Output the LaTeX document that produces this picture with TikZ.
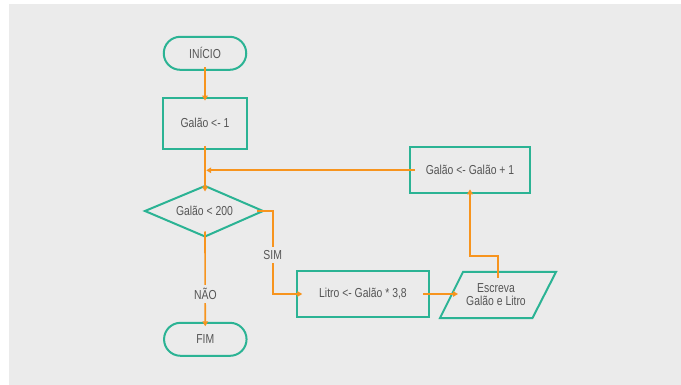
\documentclass[tikz,border=0pt]{standalone}
\usepackage{fontspec}
\setmainfont{Liberation Sans}[FakeStretch=0.8]
\usetikzlibrary{arrows.meta,calc}
\definecolor{bg}{HTML}{EBEBEB}
\definecolor{tealc}{HTML}{2BB394}
\definecolor{orng}{HTML}{F7941E}
\definecolor{txt}{HTML}{555555}
\begin{document}
\begin{tikzpicture}[x=1pt,y=-1pt,
  lab/.style={text=txt,font=\fontsize{13}{13}\selectfont},
  box/.style={lab,draw=tealc,line width=2pt,inner sep=0pt},
  term/.style={box,rounded corners=16.5pt,minimum width=82.5pt,minimum height=33pt},
  proc/.style={box,rectangle},
  conn/.style={draw=orng,line width=1.6pt,-{Triangle[length=5pt,width=5.5pt]}},
  lbl/.style={lab,fill=bg,inner xsep=1pt,inner ysep=3pt}]
\useasboundingbox (0,0) rectangle (681,385);
\fill[bg] (9,4) rectangle (681,385);

% nodes
\node[term] (ini) at (205,53.3) {INÍCIO};
\node[proc,minimum width=84.6pt,minimum height=51.3pt] (g1) at (205,123.3) {Galão <- 1};
\coordinate (dl) at (145,211);
\coordinate (dt) at (205,186);
\coordinate (dr) at (263,211);
\coordinate (db) at (205,236.5);
\draw[draw=tealc,line width=2pt] (dl) -- (dt) -- (dr) -- (db) -- cycle;
\node[lab] (dec) at (204.5,211) {Galão < 200};
\node[term] (fim) at (205.3,339.3) {FIM};
\node[proc,minimum width=131.5pt,minimum height=45pt] (lit) at (363,294) {Litro <- Galão * 3,8};
\coordinate (p1) at (440,318);
\coordinate (p2) at (463,272);
\coordinate (p3) at (556,272);
\coordinate (p4) at (532.5,318);
\draw[draw=tealc,line width=2pt] (p1) -- (p2) -- (p3) -- (p4) -- cycle;
\node[lab,align=center] (esc) at (496,294.5) {Escreva\\Galão e Litro};
\coordinate (pl) at (452,294);
\coordinate (pt) at (498,272);
\node[proc,minimum width=120pt,minimum height=46pt] (upd) at (470,170.3) {Galão <- Galão + 1};

% connectors
\draw[conn,shorten <=-3.3pt,shorten >=-4pt] (ini) -- (g1);
\draw[conn,shorten <=-4pt,shorten >=-5.5pt] (g1) -- (dt);
\coordinate (mrg) at (upd.west -| g1);
\draw[conn,shorten <=-6pt,shorten >=1.2pt] (upd.west) -- (mrg);
\coordinate (b1) at (273,211);
\draw[conn,shorten <=-6pt,shorten >=-6pt] (dr) -- (b1) |- (lit.west);
\draw[conn,shorten <=-5pt,shorten >=-4.5pt] (db) -- (fim);
\draw[conn,shorten <=-6.75pt,shorten >=-6pt] (lit.east) -- (pl);
\coordinate (b2) at (498,256);
\draw[conn,shorten <=-6pt,shorten >=-5pt] (pt) -- (b2) -| (upd.south);

% labels
\node[lbl] (sim) at (272.7,255) {SIM};
\node[lbl] (nao) at (205.5,294) {NÃO};
\end{tikzpicture}
\end{document}
